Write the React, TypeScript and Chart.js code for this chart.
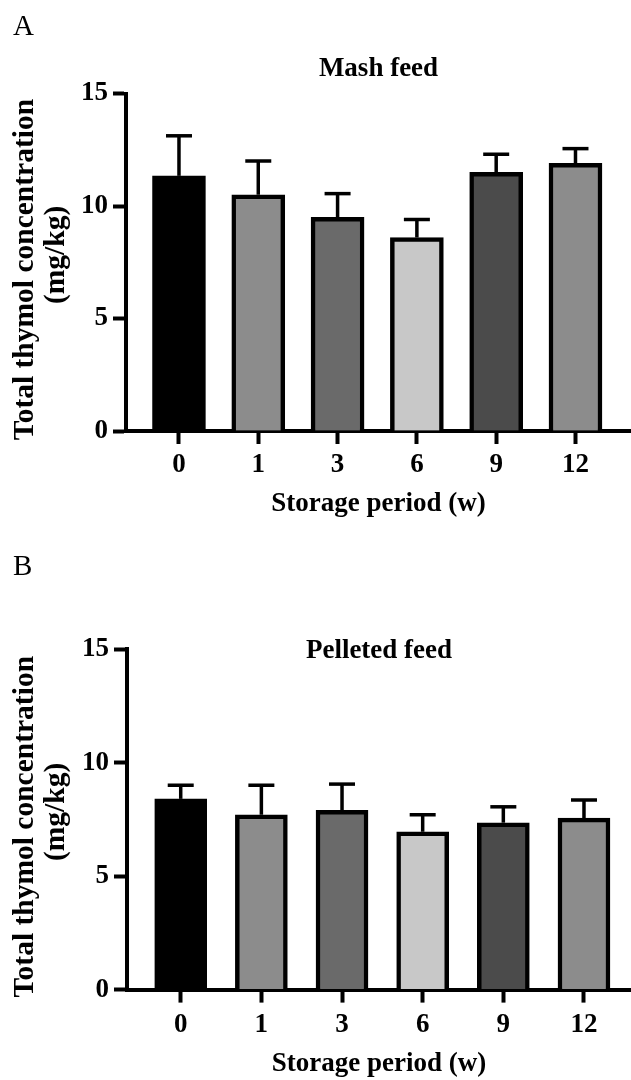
import React, { useEffect, useRef } from 'react';
import { Chart, registerables } from 'chart.js';

Chart.register(...registerables);

// ---- data ----
const categories = ['0', '1', '3', '6', '9', '12'];
const mashMeans = [11.34, 10.5, 9.5, 8.6, 11.5, 11.9];
const mashSD = [1.78, 1.5, 1.05, 0.8, 0.8, 0.65];
const pelletMeans = [8.4, 7.7, 7.9, 6.95, 7.35, 7.55];
const pelletSD = [0.6, 1.3, 1.15, 0.75, 0.7, 0.8];
const barColors = ['#000000', '#8c8c8c', '#6a6a6a', '#c8c8c8', '#4b4b4b', '#8c8c8c'];
const yTickValues = [0, 5, 10, 15];
const yTitleLines = ['Total thymol concentration  ', '  (mg/kg)'];

const FONT = "'Liberation Serif', 'Times New Roman', serif";

const errorBarPlugin = {
  id: 'errorBars',
  afterDatasetsDraw(chart: any, _args: any, opts: any) {
    const { ctx } = chart;
    const xs = chart.scales.x;
    const ys = chart.scales.y;
    ctx.save();
    ctx.strokeStyle = '#000';
    ctx.lineWidth = opts.lineWidth;
    ctx.lineCap = 'butt';
    opts.means.forEach((m: number, i: number) => {
      const px = xs.getPixelForValue(i);
      const yb = ys.getPixelForValue(m);
      const yt = ys.getPixelForValue(m + opts.sds[i]);
      ctx.beginPath();
      ctx.moveTo(px, yb);
      ctx.lineTo(px, yt);
      ctx.stroke();
      ctx.beginPath();
      ctx.moveTo(px - opts.capHalf, yt);
      ctx.lineTo(px + opts.capHalf, yt);
      ctx.stroke();
    });
    ctx.restore();
  },
};

const panelLabelPlugin = {
  id: 'panelLabel',
  afterDraw(chart: any, _args: any, opts: any) {
    const { ctx } = chart;
    ctx.save();
    ctx.font = `${opts.size}px ${FONT}`;
    ctx.fillStyle = '#000';
    ctx.textBaseline = 'alphabetic';
    ctx.textAlign = 'left';
    ctx.fillText(opts.text, opts.x, opts.y);
    ctx.restore();
  },
};

type PanelCfg = {
  label: string;
  title: string;
  means: number[];
  sds: number[];
  xMin: number;
  xMax: number;
  leftEdge: number;
  barThickness: number;
  titlePadTop: number;
  titlePadBottom: number;
  layoutBottom: number;
  xTitlePadTop: number;
  xTickPad: number;
};

function makeConfig(c: PanelCfg): any {
  const bold = (size: number, lineHeight = 1.2) => ({ family: FONT, size, weight: 'bold', lineHeight });
  return {
    type: 'bar',
    data: {
      datasets: [
        {
          data: c.means.map((v, i) => ({ x: i, y: v })),
          backgroundColor: barColors,
          borderColor: '#000',
          borderWidth: 4.5,
          borderSkipped: 'start',
          barThickness: c.barThickness,
        },
      ],
    },
    plugins: [errorBarPlugin, panelLabelPlugin],
    options: {
      responsive: false,
      animation: false,
      devicePixelRatio: 1,
      layout: { padding: { left: 0, right: 0, top: 0, bottom: c.layoutBottom } },
      plugins: {
        legend: { display: false },
        tooltip: { enabled: false },
        title: {
          display: true,
          text: c.title,
          fullSize: false,
          align: 'center',
          color: '#000',
          font: bold(27),
          padding: { top: c.titlePadTop, bottom: c.titlePadBottom },
        },
        errorBars: { means: c.means, sds: c.sds, lineWidth: 3.5, capHalf: 13 },
        panelLabel: { text: c.label, x: 13, y: 35, size: 29 },
      },
      scales: {
        x: {
          type: 'linear',
          min: c.xMin,
          max: c.xMax,
          offset: false,
          afterBuildTicks: (s: any) => {
            s.ticks = categories.map((_, i) => ({ value: i }));
          },
          ticks: {
            callback: (v: any) => categories[Math.round(Number(v))] ?? '',
            font: bold(27),
            color: '#000',
            padding: c.xTickPad,
            autoSkip: false,
            maxRotation: 0,
            minRotation: 0,
          },
          grid: {
            offset: false,
            drawOnChartArea: false,
            drawTicks: true,
            tickLength: 13,
            tickWidth: 4,
            tickColor: '#000',
            color: '#000',
          },
          border: { display: true, width: 4, color: '#000' },
          title: {
            display: true,
            text: 'Storage period (w)',
            color: '#000',
            font: bold(27),
            padding: { top: c.xTitlePadTop, bottom: 0 },
          },
        },
        y: {
          min: 0,
          max: 15,
          afterBuildTicks: (s: any) => {
            s.ticks = yTickValues.map((v) => ({ value: v }));
          },
          afterFit: (s: any) => {
            s.width = c.leftEdge;
          },
          ticks: { font: bold(27), color: '#000', padding: 5 },
          grid: {
            drawOnChartArea: false,
            drawTicks: true,
            tickLength: 13,
            tickWidth: 4,
            tickColor: '#000',
            color: '#000',
          },
          border: { display: true, width: 4, color: '#000' },
          title: {
            display: true,
            text: yTitleLines,
            color: '#000',
            font: bold(29.5, 31 / 29.5),
            padding: { top: 9.5, bottom: 0 },
          },
        },
      },
    },
  };
}

function Panel({ cfg }: { cfg: PanelCfg }) {
  const ref = useRef<HTMLCanvasElement | null>(null);
  useEffect(() => {
    if (!ref.current) return;
    const chart = new Chart(ref.current, makeConfig(cfg));
    return () => chart.destroy();
  }, []);
  return <canvas ref={ref} width={631} height={540} style={{ display: 'block', width: 631, height: 540 }} />;
}

const panelA: PanelCfg = {
  label: 'A',
  title: 'Mash feed',
  means: mashMeans,
  sds: mashSD,
  xMin: -0.668,
  xMax: 5.7,
  leftEdge: 126,
  barThickness: 53,
  titlePadTop: 52.8,
  titlePadBottom: 8.3,
  layoutBottom: 19.8,
  xTitlePadTop: 1.8,
  xTickPad: 4.8,
};

const panelB: PanelCfg = {
  label: 'B',
  title: 'Pelleted feed',
  means: pelletMeans,
  sds: pelletSD,
  xMin: -0.666,
  xMax: 5.583,
  leftEdge: 127,
  barThickness: 52,
  titlePadTop: 94.8,
  titlePadBottom: -18.2,
  layoutBottom: 0,
  xTitlePadTop: 1,
  xTickPad: 5.8,
};

export default function App() {
  return (
    <div style={{ position: 'absolute', left: 0, top: 0, width: 631, height: 1080, background: '#fff' }}>
      <Panel cfg={panelA} />
      <Panel cfg={panelB} />
    </div>
  );
}
